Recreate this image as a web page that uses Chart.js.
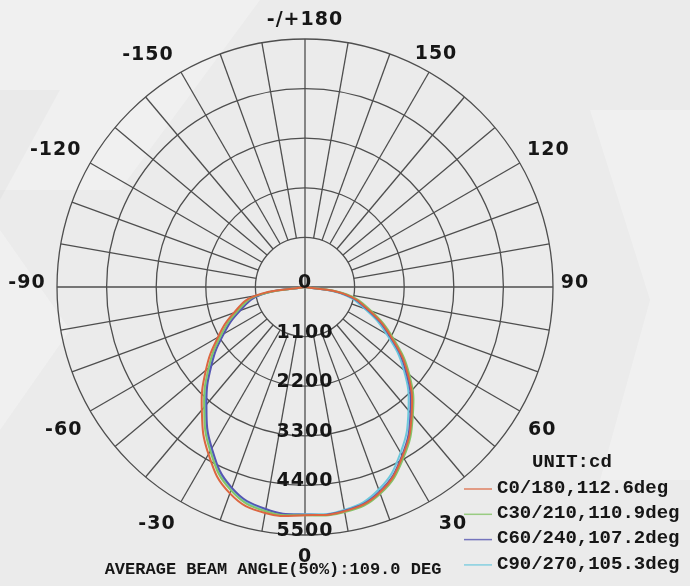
<!DOCTYPE html>
<html>
<head>
<meta charset="utf-8">
<script src="https://cdn.jsdelivr.net/npm/chart.js@4.4.1/dist/chart.umd.min.js"></script>
<style>
    html, body { margin: 0; padding: 0; background: #ebebeb; }
    #wrap { width: 690px; height: 586px; }
</style>
</head>
<body>
<div id="wrap"><canvas id="polar-chart" width="690" height="586"></canvas></div>
<script>
// gamma angles, clockwise from the top of the diagram
const gammaAngles = [180, 170, 160, 150, 140, 130, 120, 110, 100, 90, 80, 70, 60, 50, 40, 30, 20, 10,
    0, -10, -20, -30, -40, -50, -60, -70, -80, -90, -100, -110, -120, -130, -140, -150, -160, -170];
const radialTicks = [0, 1100, 2200, 3300, 4400, 5500];

const seriesNames = ['C0/180,112.6deg', 'C30/210,110.9deg', 'C60/240,107.2deg', 'C90/270,105.3deg'];
const seriesColors = ['#dc6640', '#84c468', '#5656b2', '#6cc8dc'];

const zeros10 = [0, 0, 0, 0, 0, 0, 0, 0, 0, 0];
const zeros9 = [0, 0, 0, 0, 0, 0, 0, 0, 0];
const c0Values = [...zeros10, 880, 1510, 2200, 2970, 3680, 4330, 4850, 5050, 5060, 5090, 4870, 4280, 3560, 2870, 2230, 1680, 1130, ...zeros9];
const c30Values = [...zeros10, 930, 1560, 2250, 3020, 3720, 4370, 4880, 5070, 5060, 5050, 4800, 4200, 3480, 2790, 2160, 1610, 1070, ...zeros9];
const c60Values = [...zeros10, 860, 1480, 2170, 2930, 3640, 4310, 4830, 5040, 5050, 5000, 4740, 4130, 3400, 2710, 2080, 1530, 1000, ...zeros9];
const c90Values = [...zeros10, 800, 1410, 2090, 2860, 3570, 4240, 4780, 5020, 5040, 5020, 4770, 4160, 3430, 2740, 2110, 1560, 1030, ...zeros9];
const seriesValues = [c0Values, c30Values, c60Values, c90Values];

const footerText = 'AVERAGE BEAM ANGLE(50%):109.0 DEG';
const unitText = 'UNIT:cd';

const GRID = '#4e4e4e';
// small nudges for the angle labels, keyed by angle
const labelNudge = {
    '180': [0, 7], '150': [-6, 4], '120': [6, 0], '90': [-4, -4], '60': [0, 6], '30': [11, 0],
    '0': [0, -4], '-30': [-11, 0], '-60': [-4, 6], '-90': [-4, -4], '-120': [-12, 0], '-150': [-20, 5]
};

const polarDecor = {
    id: 'polarDecor',
    beforeDraw(chart) {
        const ctx = chart.ctx;
        ctx.save();
        ctx.fillStyle = '#ebebeb';
        ctx.fillRect(0, 0, chart.width, chart.height);
        // faint background shapes
        ctx.fillStyle = 'rgba(255,255,255,0.25)';
        ctx.beginPath();
        ctx.moveTo(0, 0); ctx.lineTo(260, 0); ctx.lineTo(120, 190); ctx.lineTo(0, 190);
        ctx.fill();
        ctx.beginPath();
        ctx.moveTo(0, 230); ctx.lineTo(70, 330); ctx.lineTo(0, 430);
        ctx.fill();
        ctx.beginPath();
        ctx.moveTo(590, 110); ctx.lineTo(690, 110); ctx.lineTo(690, 480); ctx.lineTo(600, 480); ctx.lineTo(650, 300);
        ctx.fill();
        ctx.fillStyle = 'rgba(0,0,0,0.025)';
        ctx.beginPath();
        ctx.moveTo(0, 90); ctx.lineTo(60, 90); ctx.lineTo(0, 200);
        ctx.fill();
        ctx.restore();
    },
    beforeDatasetsDraw(chart) {
        const r = chart.scales.r;
        const ctx = chart.ctx;
        const inner = r.getDistanceFromCenterForValue(1100);
        const outer = r.drawingArea;
        ctx.save();
        ctx.strokeStyle = GRID;
        ctx.lineWidth = 1.3;
        gammaAngles.forEach((g, i) => {
            const start = (g % 90 === 0) ? 0 : inner;
            const a = r.getPointPosition(i, start);
            const b = r.getPointPosition(i, outer);
            ctx.beginPath();
            ctx.moveTo(a.x, a.y);
            ctx.lineTo(b.x, b.y);
            ctx.stroke();
        });
        ctx.restore();
    },
    afterDraw(chart) {
        const r = chart.scales.r;
        const ctx = chart.ctx;
        ctx.save();
        ctx.fillStyle = '#161616';
        ctx.font = 'bold 19px "DejaVu Sans"';
        ctx.letterSpacing = '1px';
        ctx.textAlign = 'center';
        ctx.textBaseline = 'middle';
        gammaAngles.forEach((g, i) => {
            if (g % 30 !== 0) return;
            const p = r.getPointPosition(i, r.drawingArea + 26);
            const n = labelNudge[String(g)] || [0, 0];
            ctx.fillText(g === 180 ? '-/+180' : String(g), p.x + n[0], p.y + n[1]);
        });
        // candela values along the 0 direction
        ctx.textBaseline = 'alphabetic';
        radialTicks.forEach(v => {
            const p = r.getPointPositionForValue(18, v);
            ctx.fillText(String(v), p.x, p.y + 1);
        });

        // legend
        ctx.letterSpacing = '0px';
        ctx.font = 'bold 19px "Liberation Mono", monospace';
        ctx.textAlign = 'left';
        ctx.textBaseline = 'middle';
        ctx.fillText(unitText, 532, 462);
        seriesNames.forEach((name, k) => {
            const y = 488 + k * 25.3;
            ctx.strokeStyle = seriesColors[k];
            ctx.globalAlpha = 0.8;
            ctx.lineWidth = 1.5;
            ctx.beginPath();
            ctx.moveTo(464, y + 1);
            ctx.lineTo(492, y + 1);
            ctx.stroke();
            ctx.globalAlpha = 1;
            ctx.fillText(name, 497, y);
        });

        ctx.font = 'bold 17px "Liberation Mono", monospace';
        ctx.textAlign = 'center';
        ctx.fillText(footerText, 273, 570);
        ctx.restore();
    }
};

const ctx = document.getElementById('polar-chart').getContext('2d');
const chart = new Chart(ctx, {
    type: 'radar',
    data: {
        labels: gammaAngles.map(String),
        datasets: seriesValues.map((vals, k) => ({
            label: seriesNames[k],
            data: vals,
            borderColor: seriesColors[k],
            borderWidth: 2,
            pointRadius: 0,
            fill: false,
            tension: 0.45
        }))
    },
    options: {
        responsive: false,
        animation: false,
        layout: { padding: { left: 57, right: 137, top: 39, bottom: 51 } },
        plugins: { legend: { display: false }, tooltip: { enabled: false } },
        scales: {
            r: {
                min: 0,
                max: 5500,
                ticks: { display: false, stepSize: 1100 },
                grid: { circular: true, color: GRID, lineWidth: 1.3 },
                angleLines: { display: false },
                pointLabels: { display: false }
            }
        }
    },
    plugins: [polarDecor]
});
</script>
</body>
</html>
